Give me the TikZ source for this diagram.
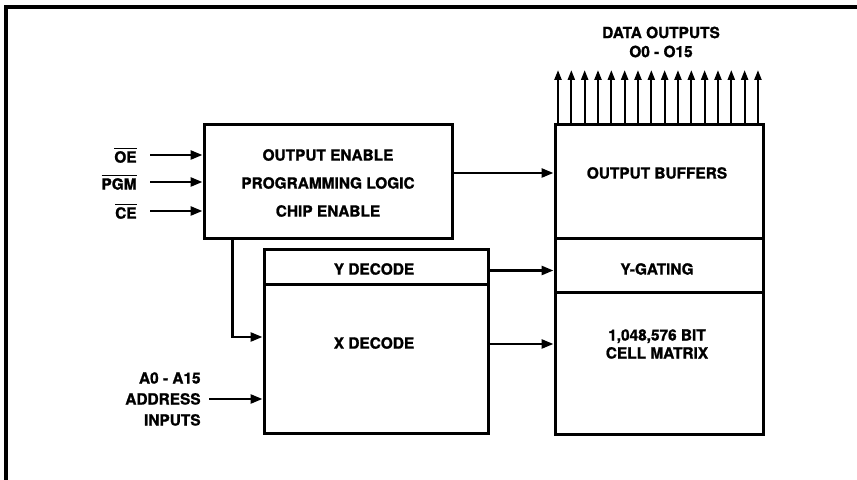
\documentclass[tikz,border=0pt]{standalone}
\usepackage{fontspec}
\setmainfont{TeX Gyre Heros}[BoldFeatures={FakeBold=1.2}]
\usetikzlibrary{arrows.meta, calc}
\tikzset{
    block/.style={draw, line width=1.5pt, inner sep=0pt},
    txt/.style={font=\bfseries\fontsize{7.7}{9.5}\selectfont, align=center, inner sep=0pt},
    sig/.style={line width=1.3pt, -{Triangle[length=6pt,width=4.5pt]}},
    bus/.style={line width=1.1pt, -{Triangle[length=5pt,width=3.5pt]}},
}

\begin{document}
\begin{tikzpicture}[x=0.5pt, y=-0.5pt]
\useasboundingbox (0,0) rectangle (857,480);

% Rahmen
\draw[line width=2pt] (5.5,480) -- (5.5,7) -- (857,7);

% Bloecke
\node[block, minimum width=124pt, minimum height=57pt] (ctrl) at (328,182) {};
\node[block, minimum width=104pt, minimum height=57pt] (ob) at (659,182) {};
\node[block, minimum width=104pt, minimum height=27pt] (yg) at (659,266) {};
\node[block, minimum width=104pt, minimum height=71pt] (cm) at (659,364) {};
\node[block, minimum width=112pt, minimum height=17.5pt] (ydec) at (376,267.5) {};
\node[block, minimum width=112pt, minimum height=74.5pt] (xdec) at (376,359.5) {};

% Beschriftungen
\node[txt] (ctrltxt) at (328,183) {OUTPUT ENABLE\\[4.5pt]PROGRAMMING LOGIC\\[4.5pt]CHIP ENABLE};
\node[txt] (obtxt) at (657,173) {OUTPUT BUFFERS};
\node[txt] (ygtxt) at (657,269) {Y-GATING};
\node[txt] (cmtxt) at (657,344) {1,048,576 BIT\\[-0.5pt]CELL MATRIX};
\node[txt] (ydtxt) at (374,269) {Y DECODE};
\node[txt] (xdtxt) at (374,343) {X DECODE};
\node[txt] (dout) at (661,42) {DATA OUTPUTS\\O0 - O15};

% Eingaenge
\node[txt, anchor=east] (oe) at (137,155) {$\overline{\mbox{OE}}$};
\node[txt, anchor=east] (pgm) at (137,182) {$\overline{\mbox{PGM}}$};
\node[txt, anchor=east] (ce) at (137,211) {$\overline{\mbox{CE}}$};
\node[txt, anchor=east, align=right] (addr) at (201,399) {A0 - A15\\[1pt]ADDRESS\\[1pt]INPUTS};

% Pfeile
\draw[sig, shorten <=6.5pt] (oe.east) -- (oe.east -| ctrl.west);
\draw[sig, shorten <=6.5pt] (pgm.east) -- (pgm.east -| ctrl.west);
\draw[sig, shorten <=6.5pt] (ce.east) -- (ce.east -| ctrl.west);
\draw[sig, shorten <=4pt] (addr.east) -- (addr.east -| xdec.west);

\draw[sig] ([xshift=15pt]ctrl.south west) |- ([yshift=11.25pt]xdec.west);
\draw[sig] ([yshift=4.5pt]ctrl.east) -- ([yshift=4.5pt]ob.west);
\draw[sig] ([yshift=-1.5pt]ydec.east) -- ([yshift=-1.5pt]ydec.east -| yg.west);
\draw[sig] ([yshift=7.75pt]xdec.east) -- ([yshift=7.75pt]xdec.east -| cm.west);

% Datenausgaenge
\foreach \i in {0,...,15}{
    \coordinate (o\i) at ({558+13.33*\i},70);
    \draw[bus] (o\i |- ob.north) -- (o\i);
}
\end{tikzpicture}
\end{document}
